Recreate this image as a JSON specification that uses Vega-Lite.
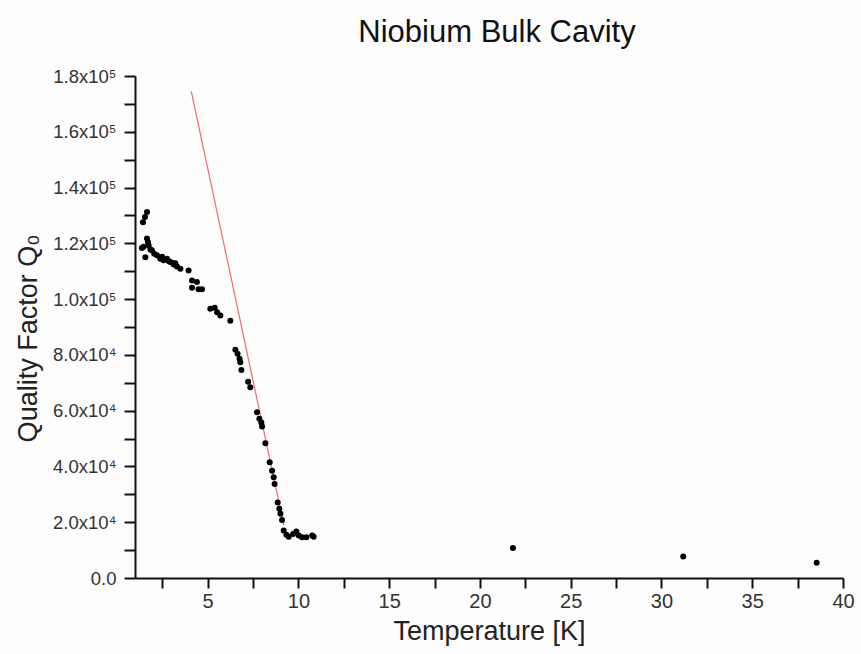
{
  "$schema": "https://vega.github.io/schema/vega-lite/v6.json",
  "autosize": "none",
  "width": 708,
  "height": 502,
  "padding": {"left": 135, "top": 76, "right": 18, "bottom": 76},
  "background": "#fdfdfd",
  "config": {
    "font": "Liberation Sans, Arial, DejaVu Sans, sans-serif",
    "view": {"stroke": null}
  },
  "title": {
    "text": "Niobium Bulk Cavity",
    "font": "Liberation Sans, Arial, sans-serif",
    "fontSize": 31,
    "fontWeight": "normal",
    "color": "#111111",
    "frame": "group",
    "anchor": "middle",
    "dx": 8,
    "offset": 18
  },
  "datasets": {
    "measured": [
      {"T": 1.44, "Q": 127600}, {"T": 1.55, "Q": 129400}, {"T": 1.66, "Q": 131200},
      {"T": 1.38, "Q": 118300}, {"T": 1.47, "Q": 118800}, {"T": 1.57, "Q": 115000},
      {"T": 1.66, "Q": 121700}, {"T": 1.71, "Q": 120500}, {"T": 1.75, "Q": 119200},
      {"T": 1.85, "Q": 117800}, {"T": 1.93, "Q": 117500}, {"T": 2.06, "Q": 116300},
      {"T": 2.21, "Q": 115700}, {"T": 2.39, "Q": 114500}, {"T": 2.5, "Q": 115200},
      {"T": 2.57, "Q": 113900}, {"T": 2.76, "Q": 114500}, {"T": 2.85, "Q": 113700},
      {"T": 2.94, "Q": 113300}, {"T": 3.05, "Q": 113000}, {"T": 3.13, "Q": 112400},
      {"T": 3.22, "Q": 112900}, {"T": 3.31, "Q": 111700}, {"T": 3.5, "Q": 110900},
      {"T": 3.95, "Q": 110300}, {"T": 4.14, "Q": 106700}, {"T": 4.41, "Q": 106100},
      {"T": 4.14, "Q": 104100}, {"T": 4.5, "Q": 103500}, {"T": 4.69, "Q": 103500},
      {"T": 5.15, "Q": 96500}, {"T": 5.39, "Q": 96900}, {"T": 5.52, "Q": 95300},
      {"T": 5.7, "Q": 94100}, {"T": 6.25, "Q": 92200}, {"T": 6.53, "Q": 81800},
      {"T": 6.65, "Q": 80400}, {"T": 6.76, "Q": 78600}, {"T": 6.8, "Q": 77400},
      {"T": 6.86, "Q": 74600}, {"T": 7.23, "Q": 70400}, {"T": 7.35, "Q": 68400},
      {"T": 7.72, "Q": 59400}, {"T": 7.85, "Q": 57100}, {"T": 7.96, "Q": 55800},
      {"T": 8.0, "Q": 54300}, {"T": 8.18, "Q": 48300}, {"T": 8.42, "Q": 41500},
      {"T": 8.55, "Q": 38500}, {"T": 8.64, "Q": 36100}, {"T": 8.69, "Q": 33700},
      {"T": 8.86, "Q": 27100}, {"T": 8.95, "Q": 24800}, {"T": 9.01, "Q": 23000},
      {"T": 9.1, "Q": 20800}, {"T": 9.19, "Q": 17000}, {"T": 9.34, "Q": 15500},
      {"T": 9.47, "Q": 14800}, {"T": 9.71, "Q": 15800}, {"T": 9.89, "Q": 16700},
      {"T": 10.02, "Q": 15200}, {"T": 10.2, "Q": 14600}, {"T": 10.44, "Q": 14600},
      {"T": 10.76, "Q": 15200}, {"T": 10.84, "Q": 14800},
      {"T": 21.82, "Q": 10800}, {"T": 31.2, "Q": 7700}, {"T": 38.55, "Q": 5500}
    ],
    "fit": [
      {"T": 4.1, "Q": 174500},
      {"T": 9.2, "Q": 19000}
    ]
  },
  "encoding": {
    "x": {
      "field": "T",
      "type": "quantitative",
      "scale": {"domain": [1, 40], "nice": false, "zero": false},
      "axis": {
        "title": "Temperature [K]",
        "values": [2.5, 5, 7.5, 10, 12.5, 15, 17.5, 20, 22.5, 25, 27.5, 30, 32.5, 35, 37.5, 40],
        "labelExpr": "datum.value % 5 === 0 ? datum.value : ''",
        "grid": false,
        "domainColor": "#111111",
        "domainWidth": 2,
        "tickColor": "#111111",
        "tickWidth": 2,
        "tickSize": 10,
        "encode": {
          "ticks": {"update": {"y2": {"signal": "datum.value % 5 === 0 ? 10 : 6"}}}
        },
        "labelFontSize": 20,
        "labelColor": "#333333",
        "labelPadding": 3,
        "labelFlush": false,
        "titleFontSize": 27,
        "titleFontWeight": "normal",
        "titleColor": "#222222",
        "titlePadding": 7
      }
    },
    "y": {
      "field": "Q",
      "type": "quantitative",
      "scale": {"domain": [0, 180000], "nice": false},
      "axis": {
        "title": "Quality Factor Q₀",
        "values": [0, 10000, 20000, 30000, 40000, 50000, 60000, 70000, 80000, 90000, 100000, 110000, 120000, 130000, 140000, 150000, 160000, 170000, 180000],
        "labelExpr": "datum.value % 20000 !== 0 ? '' : datum.value === 0 ? '0.0' : datum.value >= 100000 ? format(datum.value / 100000, '.1f') + 'x10⁵' : format(datum.value / 10000, '.1f') + 'x10⁴'",
        "grid": false,
        "domainColor": "#111111",
        "domainWidth": 2,
        "tickColor": "#111111",
        "tickWidth": 2,
        "tickSize": 11,
        "encode": {
          "ticks": {"update": {"x2": {"signal": "datum.value % 20000 === 0 ? -11 : -7"}}}
        },
        "labelFontSize": 18.5,
        "labelColor": "#333333",
        "labelPadding": 8,
        "labelFlush": false,
        "labelDy": 2,
        "titleFontSize": 27,
        "titleFontWeight": "normal",
        "titleColor": "#222222",
        "titlePadding": 10,
        "titleY": 262
      }
    }
  },
  "layer": [
    {
      "data": {"name": "fit"},
      "mark": {"type": "line", "color": "#f06a72", "strokeWidth": 1.2}
    },
    {
      "data": {"name": "measured"},
      "mark": {"type": "point", "shape": "circle", "filled": true, "color": "#000000", "opacity": 1, "size": 36}
    }
  ]
}
